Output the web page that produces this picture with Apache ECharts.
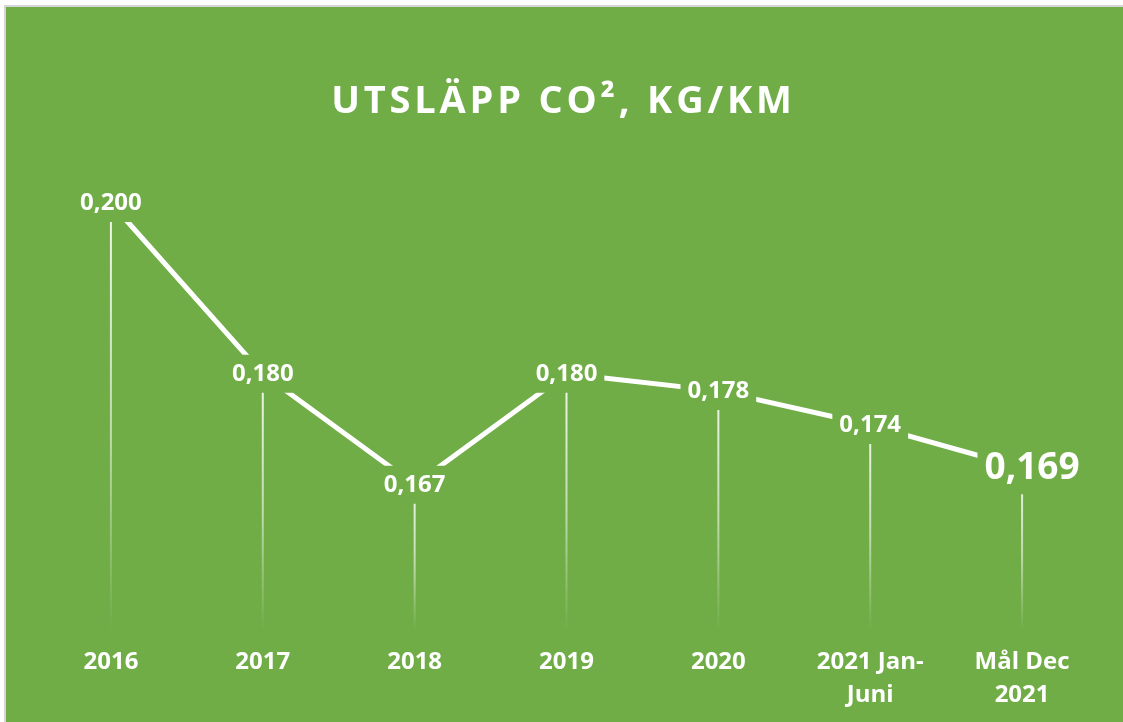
<!DOCTYPE html>
<html>
<head>
<meta charset="utf-8">
<script src="https://cdn.jsdelivr.net/npm/echarts@6/dist/echarts.min.js"></script>
<style>
  html, body { margin: 0; padding: 0; background: #ffffff; }
  #chart { width: 1123px; height: 722px; }
</style>
</head>
<body>
<div id="chart"></div>
<script>
const titleText = 'UTSLÄPP CO², KG/KM';
const categories = ['2016', '2017', '2018', '2019', '2020', '2021 Jan-Juni', 'Mål Dec 2021'];
const values = [0.200, 0.180, 0.167, 0.180, 0.178, 0.174, 0.169];
const axisMin = 0.15;
const axisMax = 0.20;
const highlightIndex = 6;

const green = '#70AD47';
const font = '"Open Sans", sans-serif';

function spaced(s) { return s.split('').join('\u200A'); }
function wrapCat(s) {
  if (s.length <= 6) return s;
  if (s.indexOf('-') >= 0) return s.replace('-', '-\n');
  const i = s.lastIndexOf(' ');
  return s.slice(0, i) + '\n' + s.slice(i + 1);
}
function fmt(v) { return v.toFixed(3).replace('.', ','); }

const chart = echarts.init(document.getElementById('chart'), null, { renderer: 'canvas' });
chart.setOption({
  backgroundColor: green,
  animation: false,
  title: {
    text: spaced(titleText),
    left: 'center',
    top: 78,
    textStyle: { color: '#ffffff', fontFamily: font, fontWeight: 'bold', fontSize: 38 }
  },
  graphic: [
    { type: 'rect', shape: { x: 0, y: 0, width: 1123, height: 7 }, style: { fill: '#ffffff' } },
    { type: 'rect', shape: { x: 0, y: 0, width: 6, height: 722 }, style: { fill: '#ffffff' } },
    { type: 'rect', shape: { x: 6, y: 5, width: 1117, height: 2 }, style: { fill: '#d6d6d6' } },
    { type: 'rect', shape: { x: 4, y: 5, width: 2, height: 717 }, style: { fill: '#d6d6d6' } }
  ],
  grid: { left: 35, right: 25, top: 203, bottom: 92, containLabel: false },
  xAxis: {
    type: 'category',
    data: categories,
    boundaryGap: true,
    axisLine: { show: false },
    axisTick: { show: false },
    splitLine: { show: false },
    axisLabel: {
      color: '#ffffff', fontFamily: font, fontWeight: 'bold', fontSize: 24,
      lineHeight: 33, margin: 16, interval: 0,
      formatter: wrapCat
    }
  },
  yAxis: {
    type: 'value', min: axisMin, max: axisMax, show: false,
    splitLine: { show: false }
  },
  series: [
    {
      type: 'bar', stack: 'drop', barWidth: 2, silent: true, z: 1,
      data: values.map(() => axisMin),
      itemStyle: { color: 'rgba(0,0,0,0)' }
    },
    {
      type: 'bar', stack: 'drop', barWidth: 2, silent: true, z: 1,
      data: values.map(v => v - axisMin),
      itemStyle: {
        color: new echarts.graphic.LinearGradient(0, 0, 0, 1, [
          { offset: 0, color: 'rgba(255,255,255,0.9)' },
          { offset: 0.55, color: 'rgba(255,255,255,0.55)' },
          { offset: 1, color: 'rgba(255,255,255,0)' }
        ])
      }
    },
    {
      type: 'line', z: 3,
      data: values.map((v, i) => i === highlightIndex
        ? { value: v, label: { fontSize: 37, offset: [10, 1] } }
        : v),
      symbol: 'circle', symbolSize: 0.1,
      itemStyle: { color: '#ffffff' },
      lineStyle: { color: '#ffffff', width: 5 },
      label: {
        show: true, position: 'inside',
        color: '#ffffff', fontFamily: font, fontWeight: 'bold', fontSize: 24,
        backgroundColor: green, padding: [7, 7],
        formatter: p => fmt(p.value)
      }
    }
  ]
});
</script>
</body>
</html>
